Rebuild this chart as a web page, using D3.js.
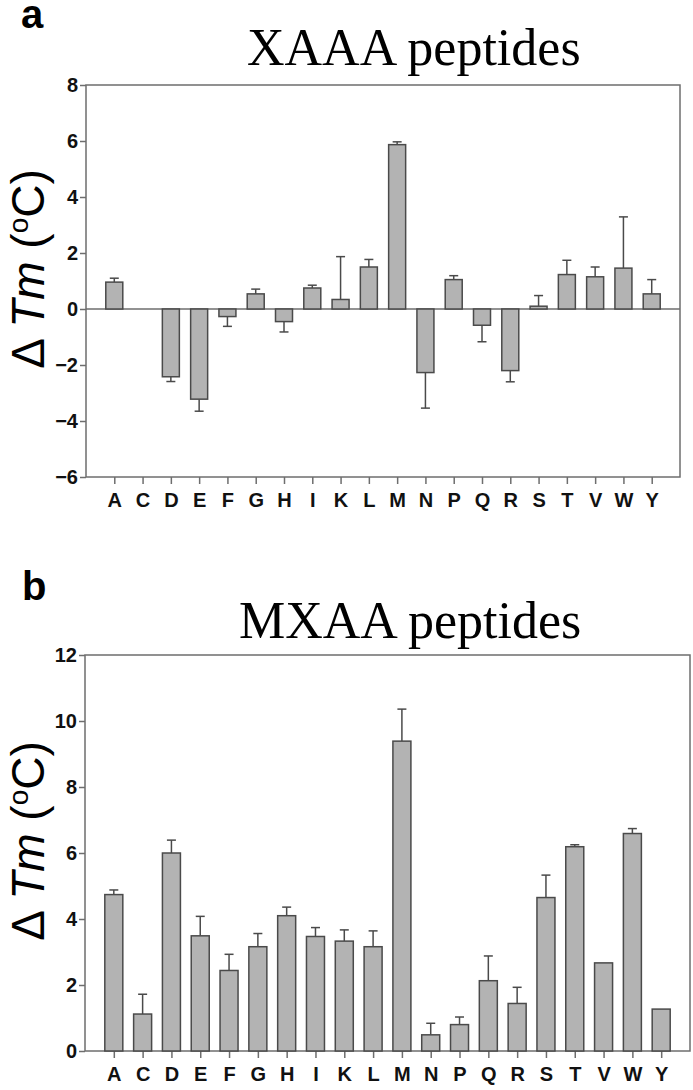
<!DOCTYPE html>
<html>
<head>
<meta charset="utf-8">
<script src="https://cdn.jsdelivr.net/npm/d3@7"></script>
<style>
  html, body { margin: 0; padding: 0; background: #fff; }
  svg { display: block; }
</style>
</head>
<body>
<svg id="chart" width="693" height="1090"></svg>
<script>
// ---------- data ----------
const categories = ["A","C","D","E","F","G","H","I","K","L","M","N","P","Q","R","S","T","V","W","Y"];

// panel a: XAAA peptides (C has no value)
const xaaaValues = [0.96, null, -2.42, -3.22, -0.27, 0.54, -0.45, 0.75, 0.34, 1.50, 5.87, -2.27, 1.05, -0.58, -2.20, 0.10, 1.23, 1.15, 1.46, 0.54];
const xaaaErrors = [0.14, null, 0.17, 0.43, 0.35, 0.17, 0.37, 0.10, 1.53, 0.27, 0.10, 1.27, 0.14, 0.59, 0.40, 0.38, 0.51, 0.35, 1.83, 0.51];
const xaaaTicks = [-6, -4, -2, 0, 2, 4, 6, 8];

// panel b: MXAA peptides
const mxaaValues = [4.74, 1.12, 6.00, 3.49, 2.44, 3.16, 4.10, 3.47, 3.33, 3.16, 9.39, 0.49, 0.80, 2.13, 1.44, 4.65, 6.19, 2.67, 6.59, 1.27];
const mxaaErrors = [0.14, 0.60, 0.39, 0.59, 0.49, 0.40, 0.26, 0.27, 0.34, 0.48, 0.97, 0.35, 0.23, 0.75, 0.49, 0.68, 0.06, 0, 0.15, 0];
const mxaaTicks = [0, 2, 4, 6, 8, 10, 12];

const panelLetters = ["a", "b"];
const titles = ["XAAA peptides", "MXAA peptides"];

// ---------- drawing ----------
const svg = d3.select("#chart");
const SANS = "'Liberation Sans', Arial, Helvetica, sans-serif";
const SERIF = "'Liberation Serif', 'Times New Roman', Times, serif";
const FRAME = "#6e6e6e";
const BAR_FILL = "#b3b3b3";
const BAR_STROKE = "#4a4a4a";

function panel(cfg) {
  const g = svg.append("g");
  const x = d3.scalePoint().domain(categories).range([cfg.left, cfg.right]).padding(1);
  const y = d3.scaleLinear().domain(cfg.domain).range([cfg.bottom, cfg.top]);

  // frame
  g.append("rect")
    .attr("x", cfg.left).attr("y", cfg.top)
    .attr("width", cfg.right - cfg.left).attr("height", cfg.bottom - cfg.top)
    .attr("fill", "none").attr("stroke", FRAME).attr("stroke-width", 1.5);

  // y axis
  const ya = g.append("g").attr("transform", `translate(${cfg.left},0)`)
    .call(d3.axisLeft(y).tickValues(cfg.ticks).tickSize(6).tickPadding(2).tickFormat(d3.format("d")));
  ya.select(".domain").remove();
  ya.selectAll(".tick line").attr("stroke", FRAME).attr("stroke-width", 1.5);
  ya.selectAll(".tick text").attr("font-family", SANS).attr("font-weight", "bold")
    .attr("font-size", 20).attr("fill", "#111");

  // x axis
  const xa = g.append("g").attr("transform", `translate(0,${cfg.bottom})`)
    .call(d3.axisBottom(x).tickSize(7).tickPadding(9));
  xa.select(".domain").remove();
  xa.selectAll(".tick line").attr("stroke", FRAME).attr("stroke-width", 1.5);
  xa.selectAll(".tick text").attr("font-family", SANS).attr("font-weight", "bold")
    .attr("font-size", 20).attr("fill", "#111");

  // zero line
  if (cfg.domain[0] < 0) {
    g.append("line")
      .attr("x1", cfg.left).attr("x2", cfg.right)
      .attr("y1", y(0)).attr("y2", y(0))
      .attr("stroke", FRAME).attr("stroke-width", 1.5);
  }

  const data = categories.map((c, i) => ({ c, v: cfg.values[i], e: cfg.errors[i] }))
    .filter(d => d.v !== null);
  const bw = cfg.barWidth;

  // error bars (one-sided, away from zero)
  const eb = g.append("g").attr("stroke", BAR_STROKE).attr("stroke-width", 1.5);
  data.filter(d => d.e > 0).forEach(d => {
    const s = d.v >= 0 ? 1 : -1;
    const yEnd = y(d.v + s * d.e);
    eb.append("line").attr("x1", x(d.c)).attr("x2", x(d.c))
      .attr("y1", y(d.v)).attr("y2", yEnd);
    eb.append("line").attr("x1", x(d.c) - 4.5).attr("x2", x(d.c) + 4.5)
      .attr("y1", yEnd).attr("y2", yEnd);
  });

  // bars
  g.append("g").selectAll("rect").data(data).join("rect")
    .attr("x", d => x(d.c) - bw / 2)
    .attr("width", bw)
    .attr("y", d => y(Math.max(0, d.v)))
    .attr("height", d => Math.abs(y(d.v) - y(0)))
    .attr("fill", BAR_FILL)
    .attr("stroke", BAR_STROKE)
    .attr("stroke-width", 1.5);

  // panel letter
  g.append("text").attr("x", cfg.letterX).attr("y", cfg.letterY)
    .attr("font-family", SANS).attr("font-weight", "bold").attr("font-size", 40)
    .attr("fill", "#000").text(cfg.letter);

  // title
  g.append("text").attr("x", cfg.titleX).attr("y", cfg.titleY)
    .attr("font-family", SERIF).attr("font-size", 52).attr("fill", "#000")
    .text(cfg.title);

  // y label
  const lab = g.append("text")
    .attr("transform", `translate(${cfg.labelX},${cfg.labelY}) rotate(-90)`)
    .attr("text-anchor", "middle")
    .attr("font-family", SANS).attr("font-size", 46).attr("fill", "#000");
  lab.append("tspan").text("\u0394 ");
  lab.append("tspan").attr("font-style", "italic").text("Tm");
  lab.append("tspan").text(" (");
  lab.append("tspan").attr("font-size", 28).attr("dy", -16).text("o");
  lab.append("tspan").attr("dy", 16).text("C)");
}

panel({
  left: 86, right: 680, top: 85, bottom: 477,
  domain: [-6, 8], ticks: xaaaTicks,
  values: xaaaValues, errors: xaaaErrors, barWidth: 17,
  letter: panelLetters[0], letterX: 21, letterY: 28,
  title: titles[0], titleX: 247, titleY: 65,
  labelX: 44, labelY: 269
});

panel({
  left: 85, right: 690, top: 655, bottom: 1051,
  domain: [0, 12], ticks: mxaaTicks,
  values: mxaaValues, errors: mxaaErrors, barWidth: 18,
  letter: panelLetters[1], letterX: 22, letterY: 600,
  title: titles[1], titleX: 239, titleY: 638,
  labelX: 44, labelY: 841
});
</script>
</body>
</html>
